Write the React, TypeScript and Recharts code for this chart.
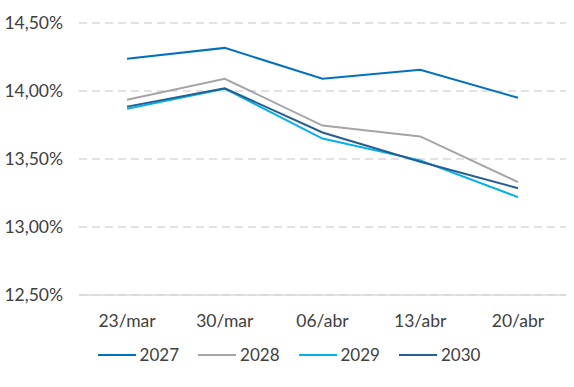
import { LineChart, Line, XAxis, YAxis, CartesianGrid, Legend } from 'recharts'

const dates = ['23/mar', '30/mar', '06/abr', '13/abr', '20/abr']
const y2027 = [14.237, 14.317, 14.09, 14.156, 13.95]
const y2028 = [13.936, 14.09, 13.746, 13.666, 13.33]
const y2029 = [13.87, 14.017, 13.65, 13.49, 13.22]
const y2030 = [13.885, 14.02, 13.695, 13.48, 13.285]
const yTicks = [12.5, 13, 13.5, 14, 14.5]

const SERIES = [
  { key: '2027', color: '#0070C0' },
  { key: '2028', color: '#A5A5A5' },
  { key: '2029', color: '#00B0F0' },
  { key: '2030', color: '#255E91' },
]

const data = dates.map((d, i) => ({
  date: d,
  '2027': y2027[i],
  '2028': y2028[i],
  '2029': y2029[i],
  '2030': y2030[i],
}))

const FONT = 'Lato, "Open Sans", sans-serif'
const TEXT = '#404040'

function LegendRow() {
  return (
    <div style={{ display: 'flex', justifyContent: 'center', gap: 19, paddingLeft: 12, fontFamily: FONT, fontSize: 17, color: TEXT, lineHeight: '20px' }}>
      {SERIES.map((s) => (
        <div key={s.key} style={{ display: 'flex', alignItems: 'center' }}>
          <div style={{ width: 38, height: 2, background: s.color, marginRight: 4 }} />
          <span>{s.key}</span>
        </div>
      ))}
    </div>
  )
}

export default function App() {
  return (
    <div style={{ position: 'absolute', left: 0, top: 0, background: '#fff' }}>
      <LineChart width={574} height={387} data={data} margin={{ top: 23, right: 8, left: 0, bottom: 32 }}>
        <CartesianGrid vertical={false} stroke="#D9D9D9" strokeDasharray="8 5" strokeWidth={1.5} />
        <XAxis
          dataKey="date"
          padding={{ left: 48, right: 48 }}
          axisLine={{ stroke: '#D9D9D9', strokeWidth: 1.5 }}
          tickLine={false}
          tick={{ fill: TEXT, fontSize: 17.5, fontFamily: FONT }}
          tickMargin={14}
          height={40}
        />
        <YAxis
          domain={[12.5, 14.5]}
          ticks={yTicks}
          axisLine={false}
          tickLine={false}
          width={79}
          tickMargin={10}
          tick={{ fill: TEXT, fontSize: 17.5, fontFamily: FONT }}
          tickFormatter={(v: number) => `${v.toFixed(2).replace('.', ',')}%`}
        />
        <Legend verticalAlign="bottom" content={() => <LegendRow />} wrapperStyle={{ bottom: 22 }} />
        {SERIES.map((s) => (
          <Line
            key={s.key}
            dataKey={s.key}
            stroke={s.color}
            strokeWidth={2}
            dot={false}
            isAnimationActive={false}
          />
        ))}
      </LineChart>
    </div>
  )
}
